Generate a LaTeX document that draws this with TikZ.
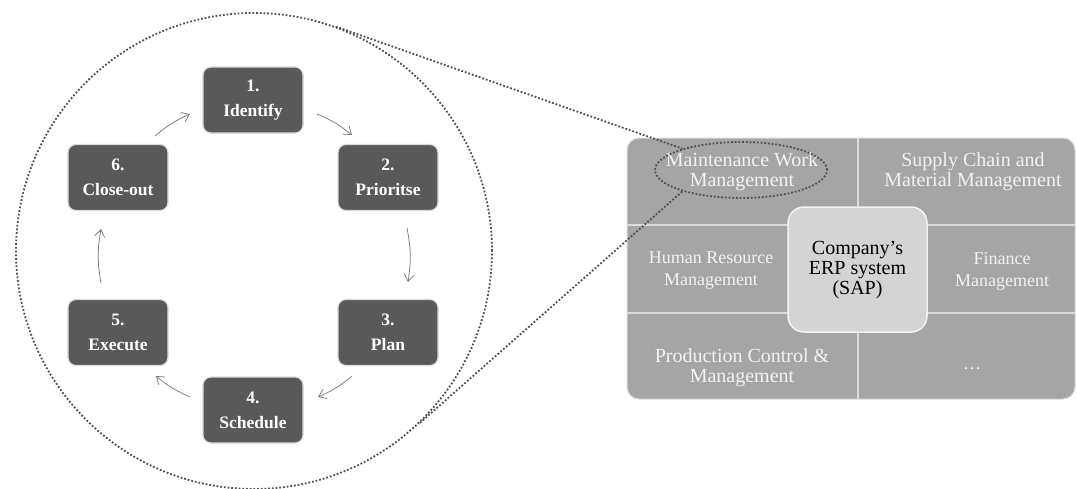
\documentclass[tikz,border=0pt]{standalone}
\usepackage{fontspec}
\setmainfont{Liberation Serif}
\usetikzlibrary{arrows.meta,shapes.geometric}

\definecolor{stepgray}{HTML}{595959}
\definecolor{cellgray}{HTML}{A5A5A5}
\definecolor{hubgray}{HTML}{D4D4D4}
\definecolor{dotgray}{HTML}{505050}
\definecolor{flowgray}{HTML}{7A7A7A}
\definecolor{edgegray}{HTML}{DADADA}

\begin{document}
\begin{tikzpicture}[x=1pt,y=-1pt]
\tikzstyle{stage}=[draw=edgegray,line width=1.2pt,fill=stepgray,rounded corners=8pt,minimum width=100pt,minimum height=66pt,align=center,text=white,font=\fontsize{17.5}{25}\selectfont\bfseries]
\tikzstyle{flow}=[draw=flowgray,line width=0.75pt,-{Straight Barb[length=7pt,width=10pt]}]
\tikzstyle{module}=[align=center,text=white!95!black,font=\fontsize{20}{20}\selectfont]
\tikzstyle{minor}=[align=center,text=white!95!black,font=\fontsize{18}{22}\selectfont]
\tikzstyle{dots}=[draw=dotgray,line width=1.8pt,dash pattern=on 1.8pt off 1.9pt]
\useasboundingbox (0,0) rectangle (1077,488);
\node [stage] (b1) at (253,100) {1.\\Identify};
\node [stage] (b2) at (388,177.5) {2.\\Prioritse};
\node [stage] (b3) at (388,332.5) {3.\\Plan};
\node [stage] (b4) at (253,410) {4.\\Schedule};
\node [stage] (b5) at (118,332.5) {5.\\Execute};
\node [stage] (b6) at (118,177.5) {6.\\Close-out};
\coordinate (s12) at (317,114);
\coordinate (t12) at (352,135);
\coordinate (s23) at (407,228);
\coordinate (t23) at (408,282);
\coordinate (s34) at (352,376);
\coordinate (t34) at (318,397);
\coordinate (s45) at (190,397);
\coordinate (t45) at (156,376);
\coordinate (s56) at (101,283);
\coordinate (t56) at (101,229);
\coordinate (s61) at (155,136);
\coordinate (t61) at (190,114);
\draw [flow] (s12) to [bend left=8] (t12);
\draw [flow] (s23) to [bend left=10] (t23);
\draw [flow] (s34) to [bend left=8] (t34);
\draw [flow] (s45) to [bend left=8] (t45);
\draw [flow] (s56) to [bend left=10] (t56);
\draw [flow] (s61) to [bend left=8] (t61);
\filldraw [fill=cellgray,draw=edgegray,line width=1pt,rounded corners=12pt] (627,138) rectangle (1075,399);
\draw [edgegray,line width=1.5pt] (627,225) -- (1075,225);
\draw [edgegray,line width=1.5pt] (627,313) -- (1075,313);
\draw [edgegray,line width=1.5pt] (858,138) -- (858,225);
\draw [edgegray,line width=1.5pt] (858,313) -- (858,399);
\node [module] (mwm) at (742,172) {Maintenance Work\\Management};
\node [module] (scm) at (973,172) {Supply Chain and\\Material Management};
\node [minor] (hrm) at (711,271) {Human Resource\\Management};
\node [minor] (fin) at (1002,271) {Finance\\Management};
\node [module] (pcm) at (742,368) {Production Control \&\\Management};
\node [minor] (more) at (972,369) {…};
\node [draw=white!95!black,line width=1.5pt,fill=hubgray,rounded corners=16pt,minimum width=139pt,minimum height=125pt,align=center,font=\fontsize{20}{20}\selectfont] (hub) at (857.5,269.5) {Company’s\\ERP system\\(SAP)};
\node [dots,ellipse,minimum width=172pt,minimum height=56pt] (ring) at (741,170) {};
\node [dots,circle,minimum size=476pt] (lens) at (254,251) {};
\draw [dots] (lens.70) -- (ring.160);
\draw [dots] (lens.-46) -- (ring.200);
\end{tikzpicture}
\end{document}
